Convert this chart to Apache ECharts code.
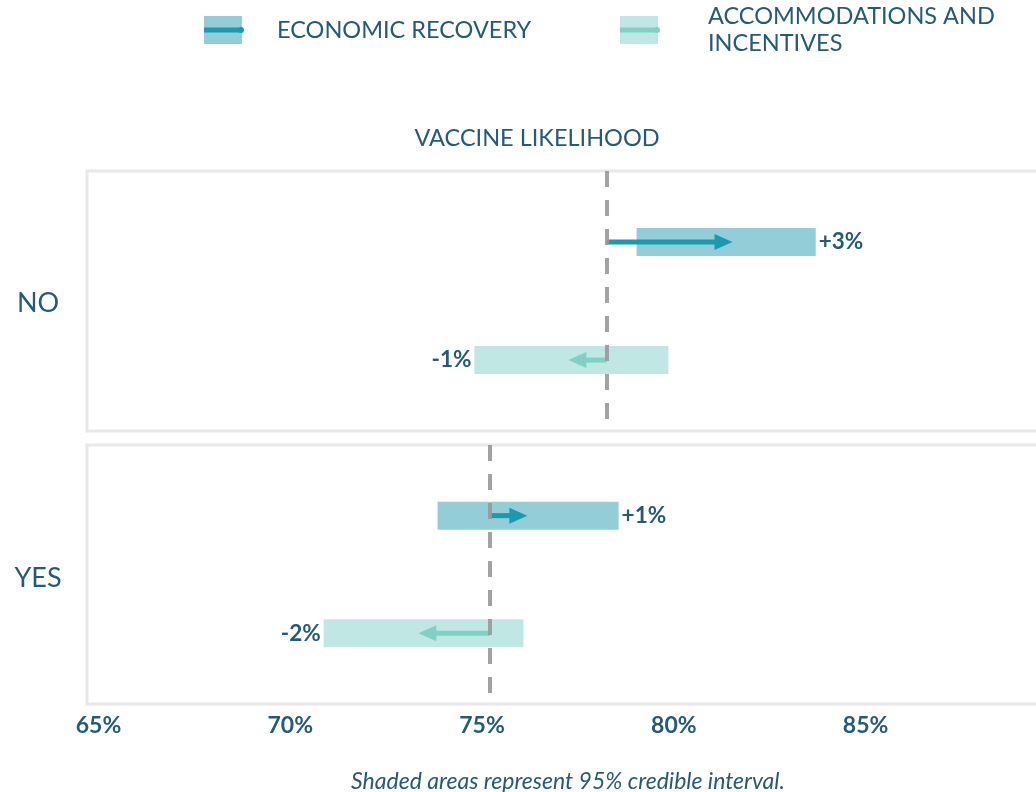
<!DOCTYPE html>
<html>
<head>
<meta charset="utf-8">
<script src="https://cdn.jsdelivr.net/npm/echarts@6/dist/echarts.min.js"></script>
<style>
  html, body { margin: 0; padding: 0; background: #fff; }
  #chart { width: 1036px; height: 792px; }
</style>
</head>
<body>
<div id="chart"></div>
<script>
// data
const groups = ['NO', 'YES'];
const seriesNames = ['ECONOMIC RECOVERY', 'ACCOMMODATIONS AND INCENTIVES'];
const baseline = [78.25, 75.2];
const econLow = [79.03, 73.84];
const econHigh = [83.7, 78.56];
const econMean = [81.53, 76.18];
const accLow = [74.8, 70.87];
const accHigh = [79.86, 76.08];
const accMean = [77.25, 73.34];
const xTicks = [65, 70, 75, 80, 85];

const TEXT = '#275a74';
const colors = {
  band: ['#92cdd8', '#c0e7e3'],
  arrow: ['#1b9aaf', '#7fd1c6']
};

const chart = echarts.init(document.getElementById('chart'));

function fmt(d) {
  const r = Math.round(d);
  return (r > 0 ? '+' : '') + r + '%';
}

function renderItem(params, api) {
  const lo = api.value(0), hi = api.value(1), mean = api.value(2), base = api.value(3);
  const row = api.value(4);
  const y = api.coord([lo, row])[1];
  const x0 = api.coord([lo, row])[0];
  const x1 = api.coord([hi, row])[0];
  const xm = api.coord([mean, row])[0];
  const xb = api.coord([base, row])[0];
  const dir = mean >= base ? 1 : -1;
  const head = 18;
  return {
    type: 'group',
    children: [
      { type: 'rect', shape: { x: x0, y: y - 14, width: x1 - x0, height: 28 },
        style: { fill: colors.band[row] } },
      { type: 'line', shape: { x1: xb, y1: y, x2: xm - dir * (head - 2), y2: y },
        style: { stroke: colors.arrow[row], lineWidth: 5 } },
      { type: 'polygon', shape: { points: [[xm, y], [xm - dir * head, y - 8], [xm - dir * head, y + 8]] },
        style: { fill: colors.arrow[row] } },
      { type: 'text', style: {
          text: fmt(mean - base),
          x: dir > 0 ? x1 + 3 : x0 - 3, y: y,
          align: dir > 0 ? 'left' : 'right', verticalAlign: 'middle',
          fontFamily: 'Lato', fontWeight: 'bold', fontSize: 22.5, fill: TEXT } }
    ]
  };
}

const grids = [
  { left: 87, top: 171, width: 960, height: 260 },
  { left: 87, top: 445, width: 960, height: 259 }
].map(g => Object.assign(g, {
  show: true, borderColor: '#e8e8e8', borderWidth: 3,
  containLabel: false, outerBoundsMode: 'none'
}));

const xAxes = groups.map((g, i) => ({
  type: 'value', gridIndex: i, min: 64.7, max: 89.73,
  interval: 5,
  splitLine: { show: false }, axisLine: { show: false }, axisTick: { show: false },
  axisLabel: {
    show: i === groups.length - 1,
    margin: 10,
    fontFamily: 'Lato', fontWeight: 'bold', fontSize: 23, color: TEXT,
    customValues: xTicks,
    formatter: v => v + '%'
  }
}));

const yAxes = groups.map((g, i) => ({
  type: 'value', gridIndex: i, inverse: true, min: -0.6, max: 1.6, show: false
}));

const series = groups.map((g, i) => ({
  type: 'custom',
  name: g,
  xAxisIndex: i, yAxisIndex: i,
  renderItem: renderItem,
  data: [
    [econLow[i], econHigh[i], econMean[i], baseline[i], 0],
    [accLow[i], accHigh[i], accMean[i], baseline[i], 1]
  ],
  markLine: {
    silent: true, symbol: 'none', label: { show: false },
    lineStyle: { color: '#999', width: 4, type: [16, 13], opacity: 0.9 },
    data: [{ xAxis: baseline[i] }]
  }
}));

chart.setOption({
  animation: false,
  title: [
    { text: 'VACCINE LIKELIHOOD', left: 532, top: 121, textAlign: 'center',
      textStyle: { fontFamily: 'Lato', fontWeight: 'normal', color: TEXT, fontSize: 23.5 } },
    { text: groups[0], left: 33, top: 285, textAlign: 'center',
      textStyle: { fontFamily: 'Lato', fontWeight: 'normal', color: TEXT, fontSize: 27 } },
    { text: groups[1], left: 33, top: 560, textAlign: 'center',
      textStyle: { fontFamily: 'Lato', fontWeight: 'normal', color: TEXT, fontSize: 27 } },
    { text: 'Shaded areas represent 95% credible interval.', left: 563, top: 765, textAlign: 'center',
      textStyle: { fontFamily: 'Lato', fontWeight: 'normal', fontStyle: 'italic', color: TEXT, fontSize: 23 } }
  ],
  graphic: [
    { type: 'rect', shape: { x: 204, y: 16, width: 38, height: 28 }, style: { fill: colors.band[0] } },
    { type: 'line', shape: { x1: 204, y1: 30, x2: 241, y2: 30 }, style: { stroke: colors.arrow[0], lineWidth: 5 } },
    { type: 'circle', shape: { cx: 241, cy: 30, r: 3 }, style: { fill: colors.arrow[0] } },
    { type: 'text', x: 277, y: 30, style: { text: seriesNames[0], verticalAlign: 'middle',
        fontFamily: 'Lato', fontSize: 23.5, fill: TEXT } },
    { type: 'rect', shape: { x: 620, y: 16, width: 38, height: 28 }, style: { fill: colors.band[1] } },
    { type: 'line', shape: { x1: 620, y1: 30, x2: 657, y2: 30 }, style: { stroke: colors.arrow[1], lineWidth: 5 } },
    { type: 'circle', shape: { cx: 657, cy: 30, r: 3 }, style: { fill: colors.arrow[1] } },
    { type: 'text', x: 708, y: 2.5, style: { text: 'ACCOMMODATIONS AND\nINCENTIVES', lineHeight: 27,
        fontFamily: 'Lato', fontSize: 23.5, fill: TEXT } }
  ],
  grid: grids,
  xAxis: xAxes,
  yAxis: yAxes,
  series: series
});
</script>
</body>
</html>
